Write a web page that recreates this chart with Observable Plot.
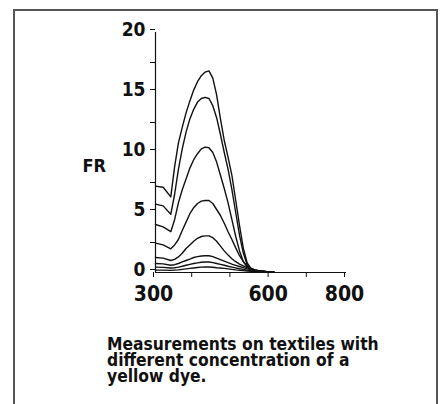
<!DOCTYPE html>
<html><head><meta charset="utf-8">
<script src="https://cdn.jsdelivr.net/npm/d3@7"></script>
<script src="https://cdn.jsdelivr.net/npm/@observablehq/plot@0.6"></script>
<style>
html,body{margin:0;padding:0;background:#fff;width:441px;height:404px;overflow:hidden;}
#frame{position:absolute;left:13px;top:9px;width:421px;height:420px;border:2px solid #555;box-sizing:content-box;}
#chart{position:absolute;left:0;top:0;}
#caption{position:absolute;left:107px;top:336px;font-family:"DejaVu Sans Condensed","Liberation Sans Narrow",sans-serif;font-weight:bold;font-size:17.3px;color:#111;white-space:nowrap;}
#caption div{height:16px;line-height:16px;overflow:visible;}
</style></head><body>
<div id="frame"></div>
<div id="chart"></div>
<div id="caption"><div>Measurements on textiles with</div><div>different concentration of a</div><div>yellow dye.</div></div>
<script>
const wavelengths = [300,320,340,350,360,370,380,390,400,410,420,430,440,450,460,470,480,490,500,510,520,530,540,550,560,570,580,590,600,610];
const c1 = [7.2,7.1,6.3,8.8,10.8,12.1,13.3,14.3,15.2,15.9,16.4,16.7,16.8,16.2,14.8,12.8,11.0,9.6,8.1,6.0,3.9,2.0,0.8,0.35,0.22,0.16,0.12,0.08,0.05,0.02];
const c2 = [5.7,5.55,4.85,6.5,8.6,10.3,11.7,12.8,13.6,14.2,14.5,14.6,14.5,13.9,12.9,11.5,10.0,8.6,6.9,5.0,3.1,1.6,0.65,0.32,0.2,0.14,0.1,0.07,0.04,0.02];
const c3 = [4.0,3.8,3.4,4.4,5.8,6.9,7.8,8.7,9.4,9.9,10.3,10.45,10.4,10.0,9.2,8.1,7.0,5.8,4.4,3.0,1.8,0.9,0.45,0.25,0.17,0.12,0.09,0.06,0.04,0.02];
const c4 = [2.45,2.3,1.97,2.3,2.75,3.5,4.2,4.9,5.4,5.75,5.95,6.0,6.0,5.75,5.25,4.75,4.1,3.4,2.75,2.05,1.4,0.9,0.55,0.35,0.22,0.15,0.1,0.07,0.04,0.02];
const c5 = [1.25,1.2,1.0,1.1,1.3,1.6,2.0,2.3,2.6,2.85,3.0,3.05,3.05,2.9,2.6,2.2,1.8,1.45,1.15,0.9,0.7,0.55,0.4,0.3,0.2,0.14,0.1,0.07,0.04,0.02];
const c6 = [0.75,0.72,0.6,0.65,0.75,0.88,1.0,1.12,1.25,1.32,1.38,1.4,1.4,1.32,1.2,1.08,0.95,0.82,0.7,0.6,0.5,0.4,0.3,0.22,0.15,0.11,0.08,0.05,0.03,0.02];
const c7 = [0.45,0.43,0.38,0.4,0.45,0.52,0.6,0.68,0.75,0.8,0.85,0.87,0.87,0.82,0.75,0.68,0.6,0.52,0.45,0.38,0.32,0.26,0.2,0.15,0.11,0.08,0.06,0.04,0.03,0.02];
const c8 = [0.2,0.2,0.18,0.2,0.22,0.26,0.3,0.34,0.38,0.42,0.45,0.46,0.46,0.44,0.4,0.37,0.34,0.3,0.26,0.22,0.19,0.16,0.13,0.1,0.08,0.06,0.05,0.04,0.03,0.02];
const xTicks = [300,400,500,600,700,800];
const xLabels = [300,600,800];
const yTicks = [0,5,10,15,20];
const yMinor = [2.5,7.5,12.5,17.5];
const yTitle = "FR";

const series = [c1,c2,c3,c4,c5,c6,c7,c8];
const data = series.flatMap((vals, i) => vals.map((v, j) => ({w: wavelengths[j], fr: v, s: i})));

const cond = '"DejaVu Sans Condensed","Liberation Sans Narrow",sans-serif';

const chart = Plot.plot({
  width: 441, height: 320,
  marginLeft: 155, marginRight: 95, marginTop: 32, marginBottom: 48,
  x: {domain: [300, 800]},
  y: {domain: [0, 20]},
  style: {background: "transparent", color: "#111"},
  marks: [
    Plot.line(data, {x: "w", y: "fr", z: "s", stroke: "#111", strokeWidth: 1.4}),
    Plot.ruleX([300], {y1: 0, y2: 20, stroke: "#111", strokeWidth: 1.2}),
    Plot.ruleY([0], {x1: 300, x2: 800, stroke: "#111", strokeWidth: 1.2}),
    Plot.axisY(yTicks, {tickSize: 5, tickPadding: 5, dy: -3, fontSize: 19, fontWeight: "bold", fontFamily: cond, label: null, stroke: "#111"}),
    Plot.axisY(yMinor, {tickSize: 5, tickFormat: () => "", label: null, stroke: "#111"}),
    Plot.axisX(xTicks, {tickSize: 5, tickPadding: 9, dx: -2, fontSize: 21, fontWeight: "bold", fontFamily: cond, label: null, stroke: "#111", tickFormat: d => xLabels.includes(d) ? String(d) : ""}),
    Plot.text([yTitle], {frameAnchor: "left", dx: -73, dy: 14, fontSize: 18, fontWeight: "bold", fontFamily: cond, fill: "#111"})
  ]
});
document.getElementById("chart").appendChild(chart);
</script>
</body></html>
